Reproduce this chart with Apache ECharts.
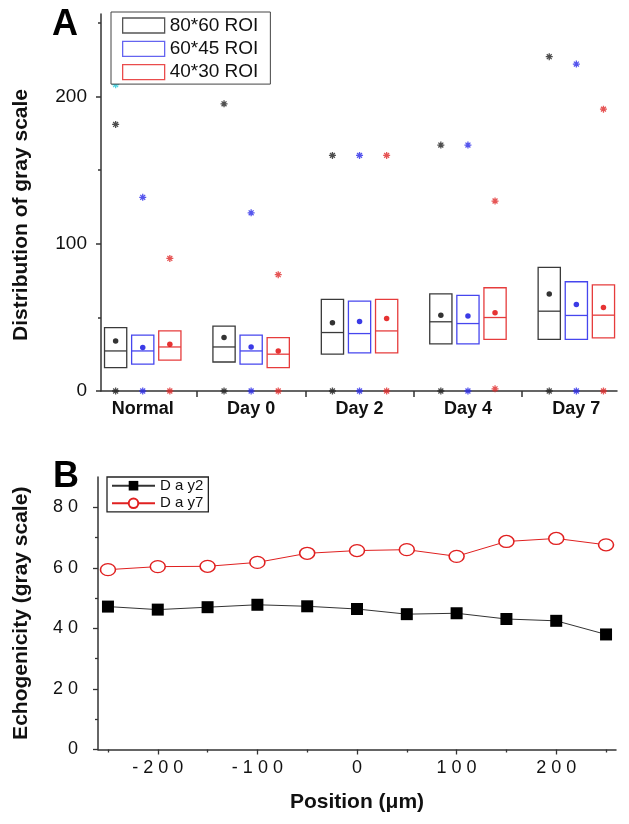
<!DOCTYPE html>
<html>
<head>
<meta charset="utf-8">
<script src="https://cdn.jsdelivr.net/npm/echarts@6/dist/echarts.min.js"></script>
<style>html,body{margin:0;padding:0;background:#fff;}#c{width:629px;height:824px;}</style>
</head>
<body>
<div id="c"></div>
<script>
// ---------- Panel A data ----------
const categories = ['Normal', 'Day 0', 'Day 2', 'Day 4', 'Day 7'];
const roiNames = ['80*60 ROI', '60*45 ROI', '40*30 ROI'];

const q1_80 = [15.9, 19.7, 25.0, 32.0, 35.0];
const med_80 = [27.2, 29.9, 39.7, 47.0, 54.2];
const q3_80 = [43.1, 44.0, 62.2, 66.0, 83.9];
const mean_80 = [34.0, 36.3, 46.3, 51.5, 65.8];
const max_80 = [181, 195, 160, 167, 227];
const min_80 = [0, 0, 0, 0, 0];

const q1_60 = [18.2, 18.2, 25.9, 32.0, 35.0];
const med_60 = [27.2, 27.2, 39.0, 45.8, 51.3];
const q3_60 = [37.9, 37.9, 61.0, 64.9, 74.2];
const mean_60 = [29.5, 29.9, 47.2, 51.0, 58.8];
const max_60 = [131.5, 121, 160, 167, 222];
const min_60 = [0, 0, 0, 0, 0];

const q1_40 = [20.9, 15.9, 25.9, 35.0, 36.1];
const med_40 = [29.9, 25.0, 40.8, 49.9, 51.5];
const q3_40 = [40.8, 36.3, 62.2, 70.1, 72.1];
const mean_40 = [31.8, 27.2, 49.2, 53.1, 56.7];
const max_40 = [90, 79, 160, 129, 191.4];
const min_40 = [0, 0, 0, 1.5, 0];

const extraNormal = [208]; // cyan mark, Normal 80*60

const yTicksA = [0, 100, 200];
const yMinorA = [50, 150, 250];
const xTicksA = [1.5, 2.5, 3.5, 4.5];
const xLabelsA = [1, 2, 3, 4, 5];

// ---------- Panel B data ----------
const positions = [-250, -200, -150, -100, -50, 0, 50, 100, 150, 200, 250];
const day2 = [47.2, 46.2, 47.0, 47.8, 47.3, 46.4, 44.7, 45.0, 43.1, 42.5, 38.0];
const day7 = [59.4, 60.4, 60.5, 61.8, 64.8, 65.7, 66.0, 63.8, 68.7, 69.7, 67.6];
const xTicksB = [-200, -100, 0, 100, 200];
const xMinorB = [-250, -150, -50, 50, 150, 250];
const yTicksB = [0, 20, 40, 60, 80];
const yMinorB = [10, 30, 50, 70];

// ---------- styling ----------
const FONT = '"Liberation Sans", Arial, sans-serif';
const boxColors = ['#3a3a3a', '#4646ee', '#e63c3c'];
const legColors = ['#555555', '#6464f0', '#ea4c4c'];
const dotColors = ['#000000', '#0a0ae0', '#e00000'];
const starColors = ['#222222', '#2a2ae8', '#e02a2a'];
const offsets = [-0.25, 0, 0.25];
const BOX_W = 0.205;
const STAR = 'path://M5,0L5,10M0,5L10,5M1.5,1.5L8.5,8.5M8.5,1.5L1.5,8.5';
const ELLIPSE = 'path://M0,6A7.5,6,0,1,0,15,6A7.5,6,0,1,0,0,6Z';

const groups = [
  {q1: q1_80, med: med_80, q3: q3_80, mean: mean_80, max: max_80, min: min_80},
  {q1: q1_60, med: med_60, q3: q3_60, mean: mean_60, max: max_60, min: min_60},
  {q1: q1_40, med: med_40, q3: q3_40, mean: mean_40, max: max_40, min: min_40}
];

function makeRender(color) {
  return function (params, api) {
    const x = api.value(0), q1 = api.value(1), med = api.value(2), q3 = api.value(3);
    const pTop = api.coord([x, q3]);
    const pBot = api.coord([x, q1]);
    const pMed = api.coord([x, med]);
    const w = api.size([BOX_W, 0])[0];
    const style = {fill: null, stroke: color, lineWidth: 1.3};
    return {
      type: 'group',
      children: [
        {type: 'rect', shape: {x: pTop[0] - w / 2, y: pTop[1], width: w, height: pBot[1] - pTop[1]}, style: style},
        {type: 'line', shape: {x1: pMed[0] - w / 2, y1: pMed[1], x2: pMed[0] + w / 2, y2: pMed[1]}, style: style}
      ]
    };
  };
}

const series = [];
groups.forEach(function (g, k) {
  const xs = categories.map(function (c, i) { return i + 1 + offsets[k]; });
  series.push({
    name: roiNames[k], type: 'custom', xAxisIndex: 0, yAxisIndex: 0,
    renderItem: makeRender(boxColors[k]),
    encode: {x: 0, y: [1, 2, 3]},
    itemStyle: {color: legColors[k]},
    data: xs.map(function (x, i) { return [x, g.q1[i], g.med[i], g.q3[i]]; }),
    z: 2, silent: true
  });
  series.push({
    name: 'mean' + k, type: 'scatter', xAxisIndex: 0, yAxisIndex: 0,
    symbol: 'circle', symbolSize: 5.5,
    itemStyle: {color: dotColors[k]},
    data: xs.map(function (x, i) { return [x, g.mean[i]]; }),
    z: 3, silent: true
  });
  series.push({
    name: 'ext' + k, type: 'scatter', xAxisIndex: 0, yAxisIndex: 0,
    symbol: STAR, symbolSize: 7,
    itemStyle: {color: starColors[k], borderColor: starColors[k], borderWidth: 1.3},
    data: xs.map(function (x, i) { return [x, g.max[i]]; }).concat(xs.map(function (x, i) { return [x, g.min[i]]; })),
    z: 3, silent: true
  });
});
series.push({
  name: 'extra', type: 'scatter', xAxisIndex: 0, yAxisIndex: 0,
  symbol: STAR, symbolSize: 7,
  itemStyle: {color: '#22c8d8', borderColor: '#22c8d8', borderWidth: 1.3},
  data: extraNormal.map(function (v) { return [1 + offsets[0], v]; }),
  z: 1, silent: true
});

series.push({
  name: 'Day2', type: 'line', xAxisIndex: 1, yAxisIndex: 2,
  data: positions.map(function (p, i) { return [p, day2[i]]; }),
  symbol: 'rect', symbolSize: 12,
  lineStyle: {color: '#333', width: 1},
  itemStyle: {color: '#000', borderWidth: 0},
  z: 3, silent: true
});
series.push({
  name: 'Day7', type: 'line', xAxisIndex: 1, yAxisIndex: 2,
  data: positions.map(function (p, i) { return [p, day7[i]]; }),
  symbol: ELLIPSE, symbolSize: [15, 12],
  lineStyle: {color: '#e02020', width: 1},
  itemStyle: {color: '#fff', borderColor: '#e02020', borderWidth: 1.4},
  z: 3, silent: true
});

const axisLineStyle = {color: '#333', width: 1.5};
const labelStyleA = {fontFamily: FONT, fontSize: 19, color: '#111'};
const spaced = function (v) { return String(v).split('').join(' '); };

const option = {
  animation: false,
  backgroundColor: '#fff',
  grid: [
    {left: 101, top: 14, width: 516, height: 377},
    {left: 98, top: 477, width: 518, height: 272.5}
  ],
  xAxis: [
    {
      type: 'value', gridIndex: 0, min: 0.615, max: 5.375, position: 'bottom',
      axisLine: {show: true, onZero: false, lineStyle: axisLineStyle},
      axisTick: {show: true, customValues: xTicksA, length: 6, lineStyle: {color: '#333', width: 1.5}},
      axisLabel: {show: true, customValues: xLabelsA, margin: 9,
        formatter: function (v) { return categories[Math.round(v) - 1] || ''; },
        fontFamily: FONT, fontSize: 18, fontWeight: 'bold', color: '#111'},
      splitLine: {show: false}
    },
    {
      type: 'value', gridIndex: 1, min: -260, max: 260, position: 'bottom',
      axisLine: {show: true, onZero: false, lineStyle: axisLineStyle},
      axisTick: {show: true, customValues: xTicksB, length: 5, lineStyle: {color: '#333', width: 1.3}},
      axisLabel: {show: true, customValues: xTicksB, margin: 10, formatter: spaced,
        fontFamily: FONT, fontSize: 18, color: '#111'},
      splitLine: {show: false},
      name: 'Position (\u03bcm)', nameLocation: 'middle', nameGap: 42,
      nameTextStyle: {fontFamily: FONT, fontSize: 21, fontWeight: 'bold', color: '#111'}
    },
    {
      type: 'value', gridIndex: 1, min: -260, max: 260, position: 'bottom',
      axisLine: {show: false, onZero: false},
      axisTick: {show: true, customValues: xMinorB, length: 3, lineStyle: {color: '#333', width: 1.3}},
      axisLabel: {show: false}, splitLine: {show: false}
    }
  ],
  yAxis: [
    {
      type: 'value', gridIndex: 0, min: 0, max: 256, position: 'left',
      axisLine: {show: true, onZero: false, lineStyle: axisLineStyle},
      axisTick: {show: true, customValues: yTicksA, length: 5, lineStyle: {color: '#333', width: 1.5}},
      axisLabel: Object.assign({show: true, customValues: yTicksA, margin: 14}, labelStyleA),
      splitLine: {show: false}
    },
    {
      type: 'value', gridIndex: 0, min: 0, max: 256, position: 'left',
      axisLine: {show: false, onZero: false},
      axisTick: {show: true, customValues: yMinorA, length: 3, lineStyle: {color: '#333', width: 1.5}},
      axisLabel: {show: false}, splitLine: {show: false}
    },
    {
      type: 'value', gridIndex: 1, min: 0, max: 90, position: 'left',
      axisLine: {show: true, onZero: false, lineStyle: axisLineStyle},
      axisTick: {show: true, customValues: yTicksB, length: 5, lineStyle: {color: '#333', width: 1.3}},
      axisLabel: {show: true, customValues: yTicksB, margin: 20, formatter: spaced,
        fontFamily: FONT, fontSize: 18, color: '#111'},
      splitLine: {show: false},
      name: 'Echogenicity (gray scale)', nameLocation: 'middle', nameGap: 66,
      nameTextStyle: {fontFamily: FONT, fontSize: 21, fontWeight: 'bold', color: '#111'}
    },
    {
      type: 'value', gridIndex: 1, min: 0, max: 90, position: 'left',
      axisLine: {show: false, onZero: false},
      axisTick: {show: true, customValues: yMinorB, length: 3, lineStyle: {color: '#333', width: 1.3}},
      axisLabel: {show: false}, splitLine: {show: false}
    }
  ],
  legend: [
    {
      orient: 'vertical', left: 111, top: 12,
      padding: [4, 12, 2.5, 11], itemGap: 4.3, itemWidth: 42, itemHeight: 15,
      borderColor: '#444', borderWidth: 1, backgroundColor: '#fff',
      selectedMode: false, z: 10,
      textStyle: {fontFamily: FONT, fontSize: 19, color: '#111'},
      data: roiNames.map(function (n, i) {
        return {name: n, icon: 'rect', itemStyle: {color: '#fff', borderColor: legColors[i], borderWidth: 1.3}};
      })
    },
    {
      orient: 'vertical', left: 107, top: 477,
      padding: [1.2, 5, 1, 4], itemGap: 2.6, itemWidth: 43, itemHeight: 12,
      borderColor: '#222', borderWidth: 1.3, backgroundColor: '#fff',
      selectedMode: false, z: 10,
      textStyle: {fontFamily: FONT, fontSize: 15, color: '#111'},
      formatter: function (n) { return n.replace('Day', 'D a y'); },
      data: ['Day2', 'Day7']
    }
  ],
  graphic: [
    {type: 'text', left: 52, top: 7, style: {text: 'A', font: 'bold 36px ' + FONT, fill: '#000'}},
    {type: 'text', left: 53, top: 459, style: {text: 'B', font: 'bold 36px ' + FONT, fill: '#000'}},
    {type: 'text', x: 21, y: 215, rotation: Math.PI / 2,
      style: {text: 'Distribution of gray scale', font: 'bold 21px ' + FONT, fill: '#111', align: 'center', verticalAlign: 'middle'}}
  ],
  series: series
};

const chart = echarts.init(document.getElementById('c'), null, {renderer: 'canvas'});
chart.setOption(option);
</script>
</body>
</html>
